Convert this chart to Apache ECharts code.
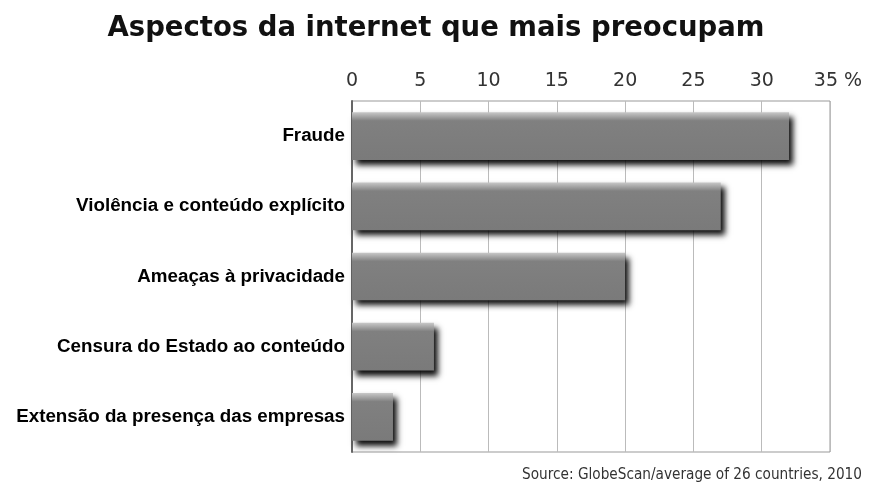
<!DOCTYPE html>
<html><head><meta charset="utf-8">
<script src="https://cdn.jsdelivr.net/npm/echarts@6/dist/echarts.min.js"></script>
<style>html,body{margin:0;padding:0;background:#fff}#c{width:872px;height:493px}</style>
</head><body><div id="c"></div>
<script>
const categories = ["Fraude","Violência e conteúdo explícito","Ameaças à privacidade","Censura do Estado ao conteúdo","Extensão da presença das empresas"];
const values = [32, 27, 20, 6, 3];
const titleText = "Aspectos da internet que mais preocupam";
const sourceText = "Source: GlobeScan/average of 26 countries, 2010";

const chart = echarts.init(document.getElementById('c'));
chart.setOption({
  backgroundColor: '#fff',
  animation: false,
  title: {
    text: titleText, left: 'center', top: 10,
    textStyle: {fontFamily: 'DejaVu Sans', fontWeight: 'bold', fontSize: 27.5, color: '#111'}
  },
  graphic: [{
    type: 'text', right: 10, top: 468,
    style: {text: sourceText, font: '15.2px "DejaVu Sans Condensed", "Liberation Sans"', fill: '#333'}
  }],
  grid: {left: 352, right: 42, top: 101, bottom: 41, show: true, borderColor: '#999', borderWidth: 1},
  xAxis: {
    type: 'value', position: 'top', min: 0, max: 35, interval: 5,
    axisLine: {show: false}, axisTick: {show: false},
    splitLine: {lineStyle: {color: '#bbb', width: 1}},
    axisLabel: {
      margin: 10, color: '#333', fontFamily: 'DejaVu Sans', fontSize: 19,
      formatter: v => v === 35 ? '{p|35 %}' : String(v),
      rich: {p: {fontFamily: 'DejaVu Sans', fontSize: 19, color: '#333', padding: [0, 0, 0, 16]}}
    }
  },
  yAxis: {
    type: 'category', data: categories, inverse: true,
    axisLine: {show: true, lineStyle: {color: '#666', width: 2}},
    axisTick: {show: false},
    axisLabel: {margin: 7, color: '#000', fontFamily: 'Liberation Sans', fontWeight: 'bold', fontSize: 18.8}
  },
  series: [{
    type: 'bar', data: values, barCategoryGap: '32%',
    itemStyle: {
      color: new echarts.graphic.LinearGradient(0, 0, 0, 1, [
        {offset: 0, color: '#c8c8c8'},
        {offset: 0.18, color: '#808080'},
        {offset: 1, color: '#7a7a7a'}
      ]),
      shadowColor: 'rgba(0,0,0,0.95)', shadowBlur: 6, shadowOffsetX: 4, shadowOffsetY: 5
    }
  }]
});
</script></body></html>
